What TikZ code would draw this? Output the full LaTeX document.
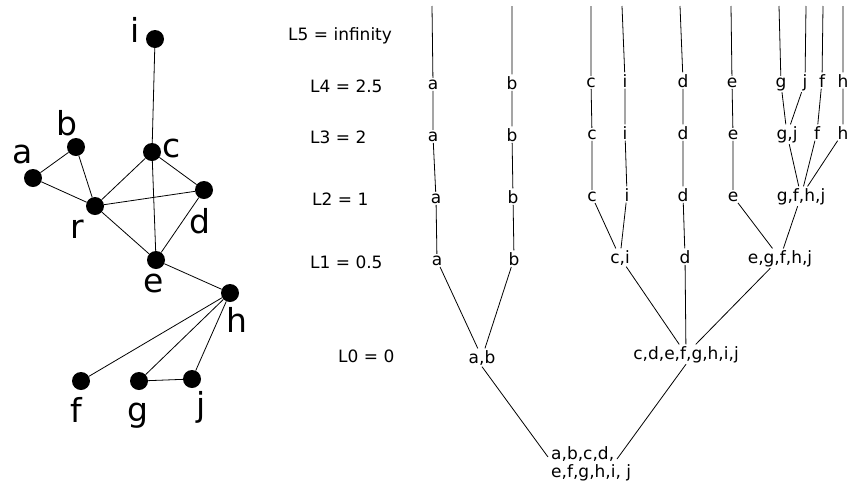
\documentclass[tikz,border=0pt]{standalone}
\usepackage{fontspec}
\setmainfont{DejaVu Sans}
\begin{document}
\begin{tikzpicture}[x=1pt,y=-1pt,
  vtx/.style={circle,fill=black,minimum size=18pt,inner sep=0pt},
  vlab/.style={font=\fontsize{33}{36}\selectfont,anchor=base,inner sep=0pt},
  tn/.style={font=\fontsize{17}{20}\selectfont,anchor=base,inner sep=1.5pt},
  lv/.style={font=\fontsize{17}{20}\selectfont,anchor=base west,inner sep=0pt},
  ln/.style={line width=0.8pt}]
\useasboundingbox (0,0) rectangle (848,488);
% ---------- left graph ----------
\node[vtx] (i) at (155,39) {};
\node[vtx] (b) at (76,147) {};
\node[vtx] (a) at (33,178) {};
\node[vtx] (c) at (152,152) {};
\node[vtx] (d) at (204,190) {};
\node[vtx] (r) at (95,206) {};
\node[vtx] (e) at (156,260) {};
\node[vtx] (h) at (230,293) {};
\node[vtx] (f) at (81,381) {};
\node[vtx] (g) at (139,381) {};
\node[vtx] (j) at (192,379) {};
\node[vlab] (li) at (135,42) {i};
\node[vlab] (lb) at (67,135) {b};
\node[vlab] (la) at (23,163) {a};
\node[vlab] (lc) at (172,157) {c};
\node[vlab] (ld) at (200,233) {d};
\node[vlab] (lr) at (77,238) {r};
\node[vlab] (le) at (154,292) {e};
\node[vlab] (lh) at (237,332) {h};
\node[vlab] (lf) at (76,422) {f};
\node[vlab] (lg) at (138,421) {g};
\node[vlab] (lj) at (201,416) {j};
\draw[ln] (a)--(b) (a)--(r) (b)--(r) (r)--(c) (r)--(d) (r)--(e)
          (c)--(d) (c)--(e) (c)--(i) (d)--(e) (e)--(h)
          (h)--(f) (h)--(g) (h)--(j) (g)--(j);
% ---------- level labels ----------
\node[lv] (L5) at (288,40) {L5 = infinity};
\node[lv] (L4) at (310,92) {L4 = 2.5};
\node[lv] (L3) at (310,143) {L3 = 2};
\node[lv] (L2) at (312,205) {L2 = 1};
\node[lv] (L1) at (310,268) {L1 = 0.5};
\node[lv] (L0) at (338,362) {L0 = 0};
% ---------- tree ----------
\coordinate (ta) at (432,6);
\coordinate (tb) at (512,6);
\coordinate (tc) at (591,6);
\coordinate (ti) at (622,6);
\coordinate (td) at (680,6);
\coordinate (te) at (731,6);
\coordinate (tg) at (779,6);
\coordinate (tj) at (806,6);
\coordinate (tf) at (823,6);
\coordinate (th) at (843,6);
\node[tn] (a4) at (433,89) {a};
\node[tn] (a3) at (433,141) {a};
\node[tn] (a2) at (436,203) {a};
\node[tn] (a1) at (437,265) {a};
\node[tn] (b4) at (512,89) {b};
\node[tn] (b3) at (512,141) {b};
\node[tn] (b2) at (513,203) {b};
\node[tn] (b1) at (514,265) {b};
\node[tn] (c4) at (591,87) {c};
\node[tn] (c3) at (592,139) {c};
\node[tn] (c2) at (592,201) {c};
\node[tn] (i4) at (625,87) {i};
\node[tn] (i3) at (625,139) {i};
\node[tn] (i2) at (627,201) {i};
\node[tn] (ci) at (620,263) {c,i};
\node[tn] (d4) at (683,87) {d};
\node[tn] (d3) at (683,139) {d};
\node[tn] (d2) at (683,201) {d};
\node[tn] (d1) at (685,263) {d};
\node[tn] (e4) at (732,87) {e};
\node[tn] (e3) at (733,139) {e};
\node[tn] (e2) at (733,201) {e};
\node[tn] (g4) at (781,87) {g};
\node[tn] (j4) at (805,87) {j};
\node[tn] (f4) at (822,87) {f};
\node[tn] (h4) at (843,87) {h};
\node[tn] (gj3) at (787,139) {g,j};
\node[tn] (f3) at (817,139) {f};
\node[tn] (h3) at (843,139) {h};
\node[tn] (gfhj) at (801,201) {g,f,h,j};
\node[tn] (egfhj) at (780,263) {e,g,f,h,j};
\node[tn] (ab) at (482,363) {a,b};
\node[tn] (cd) at (686,359) {c,d,e,f,g,h,i,j};
\node[font=\fontsize{17}{18}\selectfont,align=left,anchor=north west,inner sep=0pt]
  (root) at (551,446) {a,b,c,d,\\e,f,g,h,i, j};
\draw[ln] (ta)--(a4) (tb)--(b4) (tc)--(c4) (ti)--(i4) (td)--(d4)
          (te)--(e4) (tg)--(g4) (tj)--(j4) (tf)--(f4) (th)--(h4);
\draw[ln] (a4)--(a3) (b4)--(b3) (c4)--(c3) (i4)--(i3) (d4)--(d3)
          (e4)--(e3) (g4)--(gj3) (j4)--(gj3) (f4)--(f3) (h4)--(h3);
\draw[ln] (a3)--(a2) (b3)--(b2) (c3)--(c2) (i3)--(i2) (d3)--(d2)
          (e3)--(e2) (gj3)--(gfhj) (f3)--(gfhj) (h3)--(gfhj);
\draw[ln] (a2)--(a1) (b2)--(b1) (c2)--(ci) (i2)--(ci) (d2)--(d1)
          (e2)--(egfhj) (gfhj)--(egfhj);
\draw[ln] (a1)--(ab) (b1)--(ab) (ci)--(cd) (d1)--(cd) (egfhj)--(cd);
\draw[ln] (ab.south)--([shift={(-3pt,-11pt)}]root.north west);
\draw[ln] (cd.south)--([shift={(66pt,-13pt)}]root.north west);
\end{tikzpicture}
\end{document}
